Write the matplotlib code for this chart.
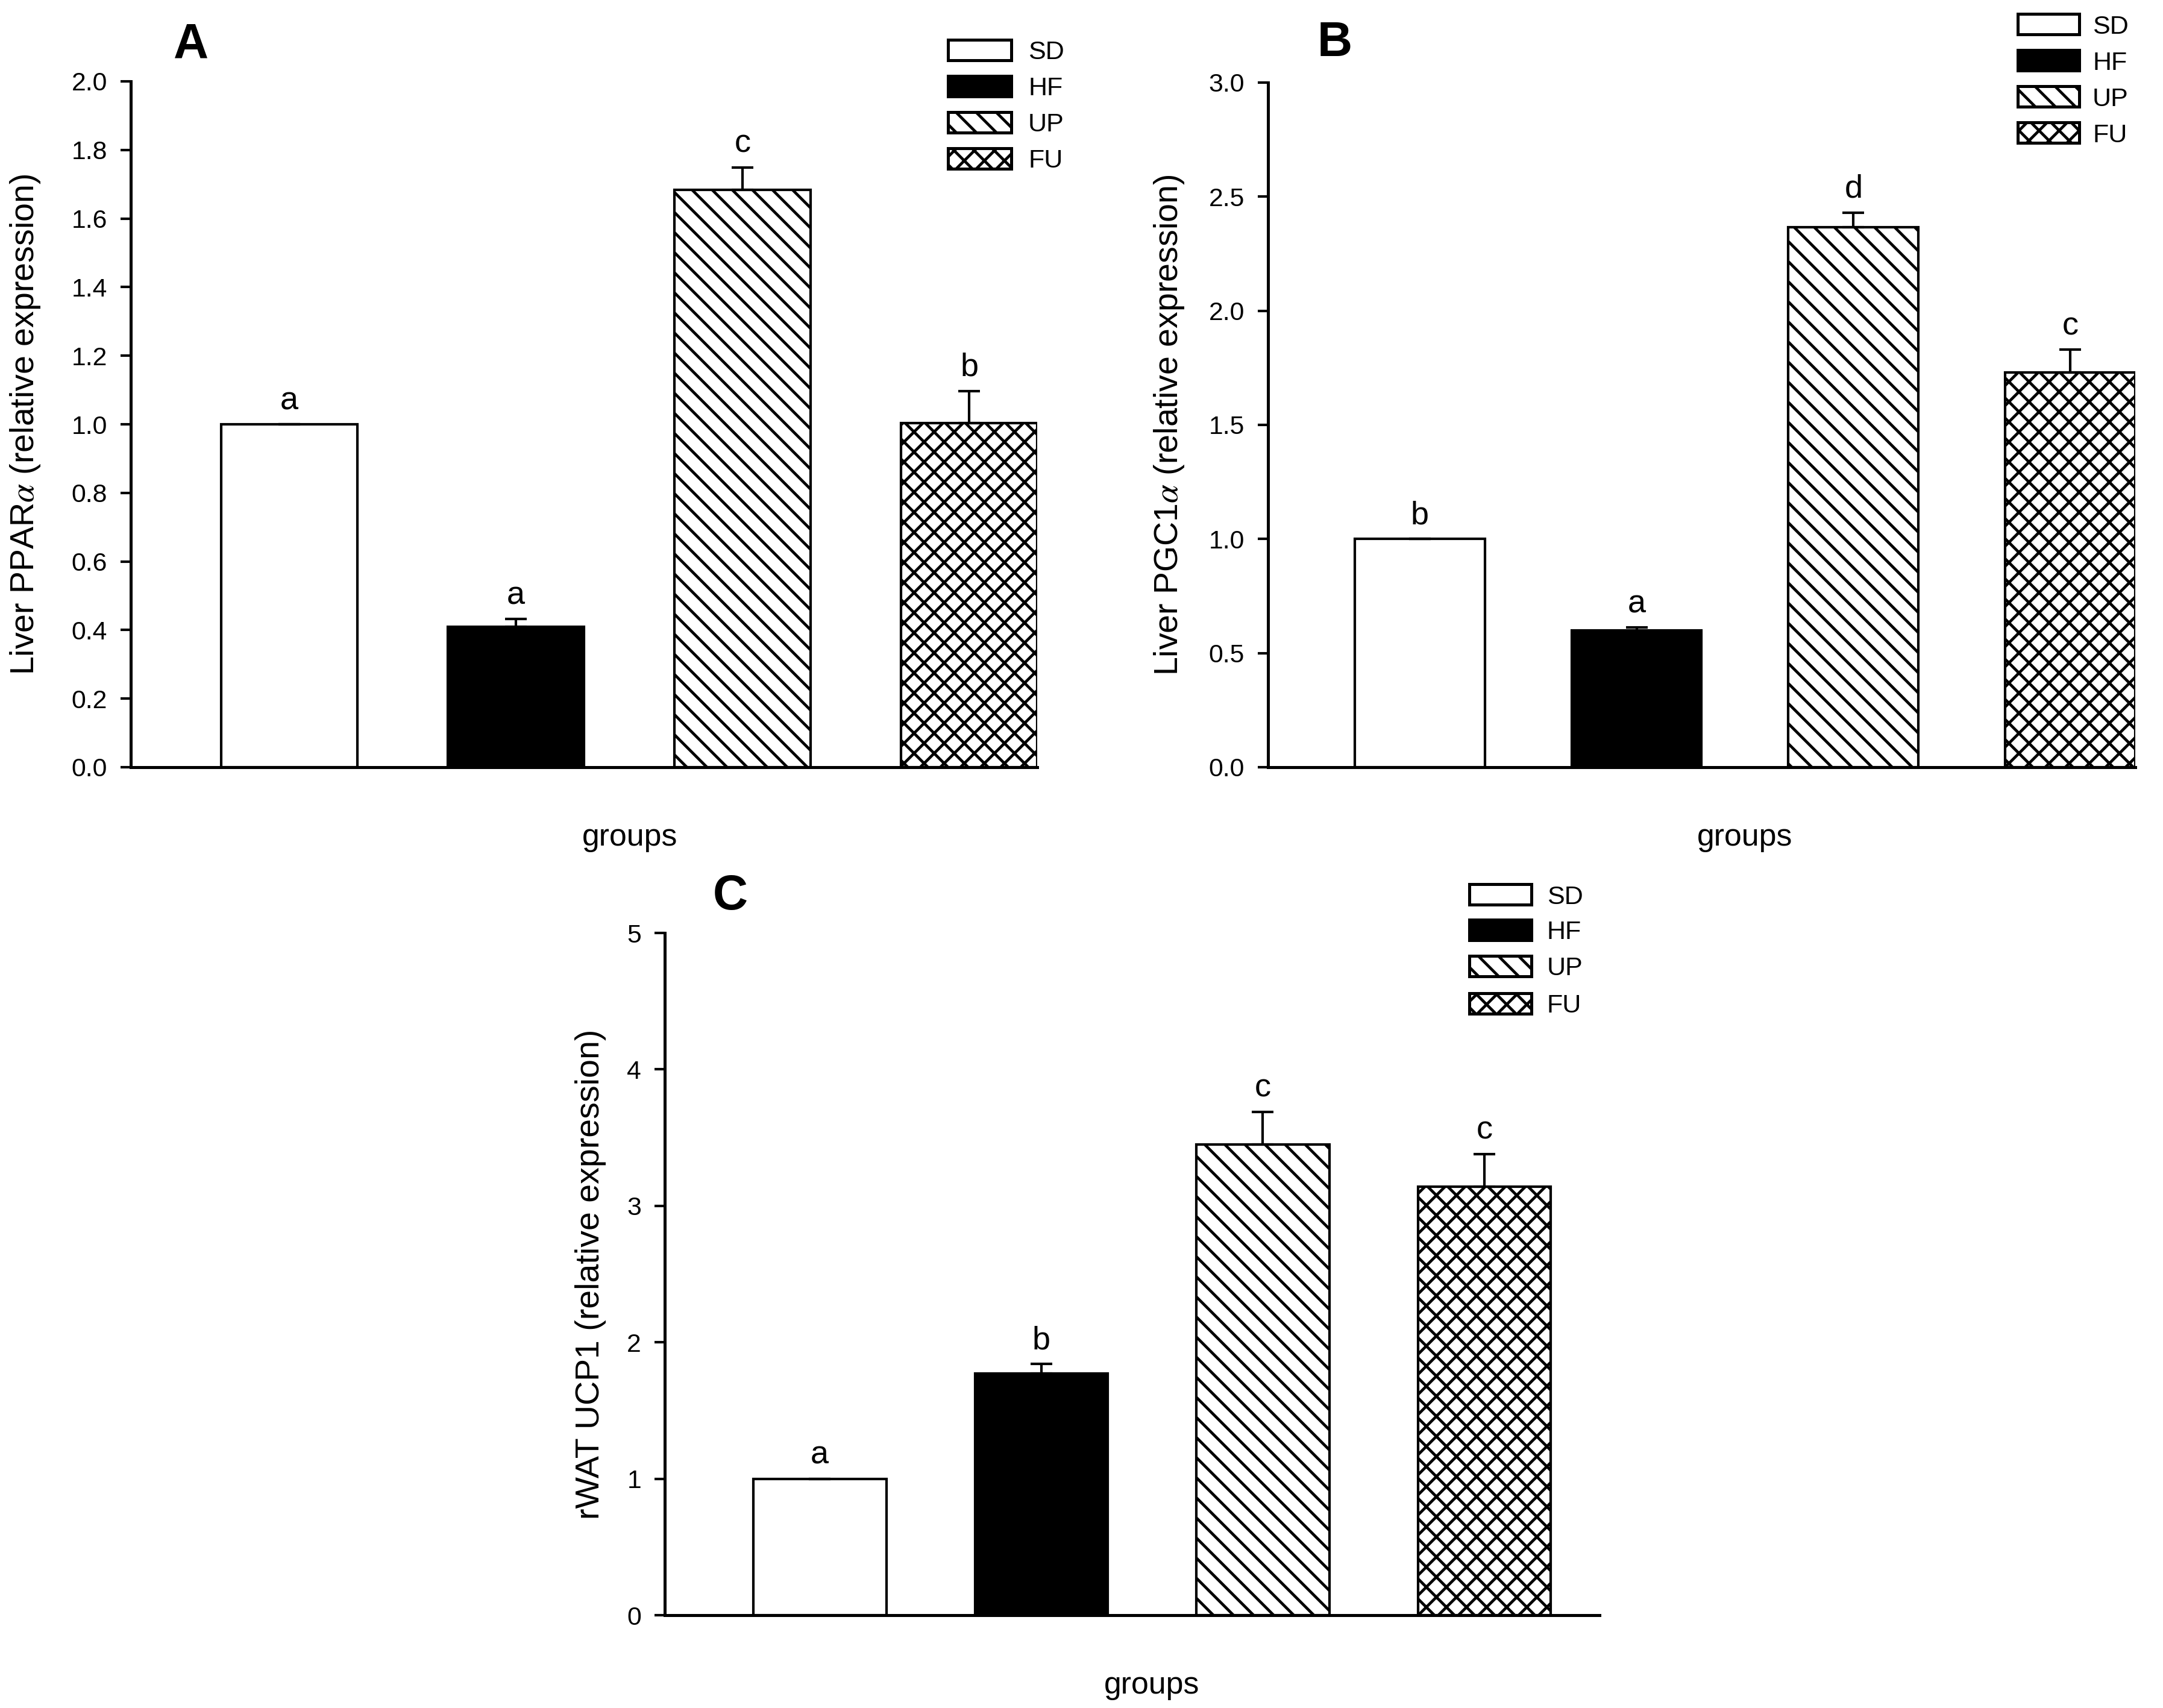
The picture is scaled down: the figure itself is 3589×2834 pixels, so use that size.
import matplotlib
matplotlib.use("Agg")
import matplotlib.pyplot as plt
from matplotlib.patches import Rectangle
import numpy as np

plt.rcParams['font.family'] = ['Liberation Sans', 'DejaVu Sans']
plt.rcParams['mathtext.fontset'] = 'stix'
plt.rcParams['hatch.linewidth'] = 1.7

groups = ["SD", "HF", "UP", "FU"]
hatches = ["", "", "\\\\", "xx"]
faces = ["white", "black", "white", "white"]

a_vals = [1.0, 0.41, 1.684, 1.003]
a_err = [0.0, 0.022, 0.065, 0.094]
a_letters = ["a", "a", "c", "b"]

b_vals = [1.0, 0.60, 2.365, 1.73]
b_err = [0.0, 0.012, 0.065, 0.10]
b_letters = ["b", "a", "d", "c"]

c_vals = [1.0, 1.77, 3.45, 3.14]
c_err = [0.0, 0.07, 0.24, 0.24]
c_letters = ["a", "b", "c", "c"]

a_ticks = [0.0, 0.2, 0.4, 0.6, 0.8, 1.0, 1.2, 1.4, 1.6, 1.8, 2.0]
b_ticks = [0.0, 0.5, 1.0, 1.5, 2.0, 2.5, 3.0]
c_ticks = [0, 1, 2, 3, 4, 5]

W, H = 3589, 2834
DPI = 200
fig = plt.figure(figsize=(W / DPI, H / DPI), dpi=DPI)


def px_rect(l, r, top, bot):
    return [l / W, 1 - bot / H, (r - l) / W, (bot - top) / H]


def panel(rect, vals, err, letters, ticks, fmt, xmax):
    ax = fig.add_axes(rect)
    x = np.arange(len(groups))
    ax.bar(x, vals, width=0.6, color=faces, edgecolor="black",
           linewidth=1.5, zorder=2)
    for b, h in zip(ax.patches, hatches):
        if h:
            b.set_hatch(h)
    ax.errorbar(x, vals, yerr=[np.zeros(len(vals)), err], fmt="none",
                ecolor="black", elinewidth=1.5, capsize=6.5, capthick=1.5,
                zorder=3)
    for xi, v, e, t in zip(x, vals, err, letters):
        ax.annotate(t, (xi, v + e), xytext=(0, 9), textcoords="offset points",
                    ha="center", va="baseline", fontsize=19.5)
    ax.set_xlim(-0.7, xmax)
    ax.set_ylim(ticks[0], ticks[-1])
    ax.set_yticks(ticks)
    ax.set_yticklabels([fmt.format(t) for t in ticks])
    ax.set_xticks([])
    for s in ["top", "right"]:
        ax.spines[s].set_visible(False)
    for s in ["left", "bottom"]:
        ax.spines[s].set_linewidth(1.8)
    ax.tick_params(axis="y", direction="out", length=6, width=1.5, pad=8,
                   labelsize=15.4)
    ax.patch.set_alpha(0)
    return ax


axA = panel(px_rect(217, 1721, 135, 1273), a_vals, a_err, a_letters,
            a_ticks, "{:.1f}", 3.3)
axB = panel(px_rect(2104, 3543, 137, 1273), b_vals, b_err, b_letters,
            b_ticks, "{:.1f}", 3.3)
axC = panel(px_rect(1103, 2654, 1548, 2680), c_vals, c_err, c_letters,
            c_ticks, "{:d}", 3.52)

ov = fig.add_axes([0, 0, 1, 1], zorder=10)
ov.set_xlim(0, W)
ov.set_ylim(H, 0)
ov.axis("off")
ov.patch.set_alpha(0)

# panel letters
for lab, xx, yy in [("A", 288, 96), ("B", 2186, 93), ("C", 1183, 1509)]:
    ov.text(xx, yy, lab, fontsize=29, fontweight="bold", ha="left",
            va="baseline")

# y labels
ylabels = ["Liver PPAR$\\alpha$ (relative expression)",
           "Liver PGC1$\\alpha$ (relative expression)",
           "rWAT UCP1 (relative expression)"]
for lab, xx, yy in zip(ylabels, [42, 1940, 980],
                       [(135 + 1273) / 2, (137 + 1273) / 2, (1548 + 2680) / 2]):
    ov.text(xx, yy, lab, fontsize=20, rotation=90, ha="center", va="center")

# x labels
for xx, yy in [(1045, 1403), (2895, 1403), (1911, 2810)]:
    ov.text(xx, yy, "groups", fontsize=18.7, ha="center", va="baseline")

# legends
leg_pos = [(1573, 1678, [83, 143, 203, 263], 1706),
           (3348, 3450, [40, 100, 160, 220], 3472),
           (2438, 2541, [1484, 1543, 1603, 1665], 2567)]
for x0, x1, ys, tx in leg_pos:
    for g, h, f, yc in zip(groups, hatches, faces, ys):
        r = Rectangle((x0, yc - 17), x1 - x0, 34, facecolor=f,
                      edgecolor="black", linewidth=1.8, hatch=h if h else None)
        ov.add_patch(r)
        ov.text(tx, yc + 15.5, g, fontsize=15.5, ha="left", va="baseline")

fig.savefig("out.png", dpi=DPI, facecolor="white")
